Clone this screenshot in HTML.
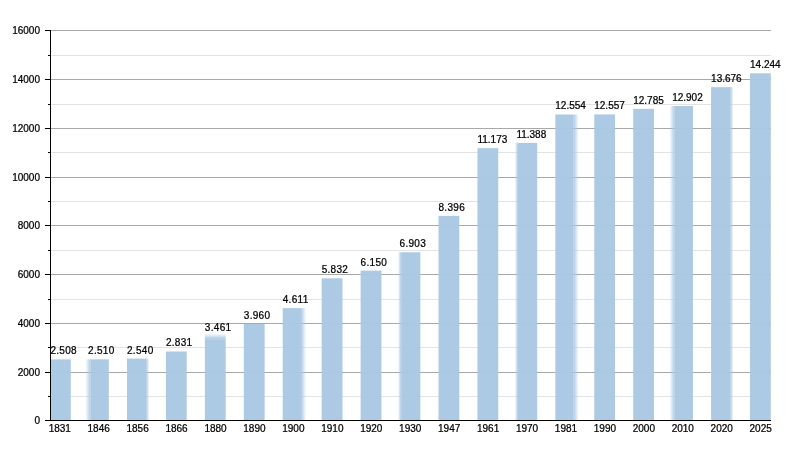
<!DOCTYPE html><html><head><meta charset="utf-8"><style>html,body{margin:0;padding:0;background:#fff}svg{display:block;will-change:transform}text{font-family:"Liberation Sans",sans-serif;font-size:10px;fill:#000;stroke:#000;stroke-width:0.24px}.v{letter-spacing:0.3px}</style></head><body>
<svg width="800" height="450" viewBox="0 0 800 450">
<rect width="800" height="450" fill="#fff"/>
<defs><linearGradient id="gl" x1="0" x2="1" y1="0" y2="0"><stop offset="0" stop-color="#aac8e4" stop-opacity="0"/><stop offset="1" stop-color="#aac8e4" stop-opacity="0.97"/></linearGradient><linearGradient id="gr" x1="0" x2="1" y1="0" y2="0"><stop offset="0" stop-color="#aac8e4" stop-opacity="0.97"/><stop offset="1" stop-color="#aac8e4" stop-opacity="0"/></linearGradient><linearGradient id="gt" x1="0" x2="0" y1="0" y2="1"><stop offset="0" stop-color="#aac8e4" stop-opacity="0"/><stop offset="1" stop-color="#aac8e4" stop-opacity="0.97"/></linearGradient></defs>
<line x1="50.5" x2="771.0" y1="396.50" y2="396.50" stroke="#e3e3e3" stroke-width="1"/>
<line x1="50.5" x2="771.0" y1="372.50" y2="372.50" stroke="#a8a8a8" stroke-width="1"/>
<line x1="50.5" x2="771.0" y1="347.50" y2="347.50" stroke="#e3e3e3" stroke-width="1"/>
<line x1="50.5" x2="771.0" y1="323.50" y2="323.50" stroke="#a8a8a8" stroke-width="1"/>
<line x1="50.5" x2="771.0" y1="299.50" y2="299.50" stroke="#e3e3e3" stroke-width="1"/>
<line x1="50.5" x2="771.0" y1="274.50" y2="274.50" stroke="#a8a8a8" stroke-width="1"/>
<line x1="50.5" x2="771.0" y1="250.50" y2="250.50" stroke="#e3e3e3" stroke-width="1"/>
<line x1="50.5" x2="771.0" y1="225.50" y2="225.50" stroke="#a8a8a8" stroke-width="1"/>
<line x1="50.5" x2="771.0" y1="201.50" y2="201.50" stroke="#e3e3e3" stroke-width="1"/>
<line x1="50.5" x2="771.0" y1="177.50" y2="177.50" stroke="#a8a8a8" stroke-width="1"/>
<line x1="50.5" x2="771.0" y1="152.50" y2="152.50" stroke="#e3e3e3" stroke-width="1"/>
<line x1="50.5" x2="771.0" y1="128.50" y2="128.50" stroke="#a8a8a8" stroke-width="1"/>
<line x1="50.5" x2="771.0" y1="104.50" y2="104.50" stroke="#e3e3e3" stroke-width="1"/>
<line x1="50.5" x2="771.0" y1="79.50" y2="79.50" stroke="#a8a8a8" stroke-width="1"/>
<line x1="50.5" x2="771.0" y1="55.50" y2="55.50" stroke="#e3e3e3" stroke-width="1"/>
<line x1="50.5" x2="771.0" y1="30.50" y2="30.50" stroke="#a8a8a8" stroke-width="1"/>
<rect x="50.50" y="359.37" width="20.30" height="61.13" fill="#aac8e4" fill-opacity="0.97"/>
<rect x="85.44" y="359.32" width="5.20" height="61.18" fill="url(#gl)"/>
<rect x="90.64" y="359.32" width="18.20" height="61.18" fill="#aac8e4" fill-opacity="0.97"/>
<rect x="146.18" y="358.59" width="3.20" height="61.91" fill="url(#gr)"/>
<rect x="126.98" y="358.59" width="19.20" height="61.91" fill="#aac8e4" fill-opacity="0.97"/>
<rect x="165.92" y="351.49" width="20.80" height="69.01" fill="#aac8e4" fill-opacity="0.97"/>
<rect x="204.86" y="333.14" width="20.80" height="6" fill="url(#gt)"/>
<rect x="204.86" y="339.14" width="20.80" height="81.36" fill="#aac8e4" fill-opacity="0.97"/>
<rect x="243.80" y="323.98" width="20.80" height="96.52" fill="#aac8e4" fill-opacity="0.97"/>
<rect x="300.94" y="308.11" width="5.20" height="112.39" fill="url(#gr)"/>
<rect x="282.74" y="308.11" width="18.20" height="112.39" fill="#aac8e4" fill-opacity="0.97"/>
<rect x="321.68" y="278.35" width="20.80" height="142.15" fill="#aac8e4" fill-opacity="0.97"/>
<rect x="360.62" y="270.59" width="20.80" height="149.91" fill="#aac8e4" fill-opacity="0.97"/>
<rect x="397.96" y="252.24" width="3.20" height="168.26" fill="url(#gl)"/>
<rect x="401.16" y="252.24" width="19.20" height="168.26" fill="#aac8e4" fill-opacity="0.97"/>
<rect x="438.50" y="215.85" width="20.80" height="204.65" fill="#aac8e4" fill-opacity="0.97"/>
<rect x="477.44" y="148.16" width="20.80" height="272.34" fill="#aac8e4" fill-opacity="0.97"/>
<rect x="514.78" y="142.92" width="3.20" height="277.58" fill="url(#gl)"/>
<rect x="517.98" y="142.92" width="19.20" height="277.58" fill="#aac8e4" fill-opacity="0.97"/>
<rect x="573.52" y="114.50" width="5.20" height="306.00" fill="url(#gr)"/>
<rect x="555.32" y="114.50" width="18.20" height="306.00" fill="#aac8e4" fill-opacity="0.97"/>
<rect x="594.26" y="114.42" width="20.80" height="306.08" fill="#aac8e4" fill-opacity="0.97"/>
<rect x="633.20" y="108.87" width="20.80" height="311.63" fill="#aac8e4" fill-opacity="0.97"/>
<rect x="669.54" y="106.01" width="5.20" height="314.49" fill="url(#gl)"/>
<rect x="674.74" y="106.01" width="18.20" height="314.49" fill="#aac8e4" fill-opacity="0.97"/>
<rect x="730.28" y="87.15" width="3.20" height="333.35" fill="url(#gr)"/>
<rect x="711.08" y="87.15" width="19.20" height="333.35" fill="#aac8e4" fill-opacity="0.97"/>
<rect x="750.02" y="73.30" width="20.80" height="347.20" fill="#aac8e4" fill-opacity="0.97"/>
<line x1="50.5" x2="50.5" y1="30.0" y2="421.0" stroke="#000" stroke-width="1"/>
<line x1="50.0" x2="771.0" y1="420.5" y2="420.5" stroke="#000" stroke-width="1"/>
<line x1="45.0" x2="50.5" y1="420.50" y2="420.50" stroke="#000" stroke-width="1"/>
<text x="40" y="424.00" text-anchor="end">0</text>
<line x1="48.0" x2="50.5" y1="396.50" y2="396.50" stroke="#000" stroke-width="1"/>
<line x1="45.0" x2="50.5" y1="372.50" y2="372.50" stroke="#000" stroke-width="1"/>
<text x="40" y="376.00" text-anchor="end">2000</text>
<line x1="48.0" x2="50.5" y1="347.50" y2="347.50" stroke="#000" stroke-width="1"/>
<line x1="45.0" x2="50.5" y1="323.50" y2="323.50" stroke="#000" stroke-width="1"/>
<text x="40" y="327.00" text-anchor="end">4000</text>
<line x1="48.0" x2="50.5" y1="299.50" y2="299.50" stroke="#000" stroke-width="1"/>
<line x1="45.0" x2="50.5" y1="274.50" y2="274.50" stroke="#000" stroke-width="1"/>
<text x="40" y="278.00" text-anchor="end">6000</text>
<line x1="48.0" x2="50.5" y1="250.50" y2="250.50" stroke="#000" stroke-width="1"/>
<line x1="45.0" x2="50.5" y1="225.50" y2="225.50" stroke="#000" stroke-width="1"/>
<text x="40" y="229.00" text-anchor="end">8000</text>
<line x1="48.0" x2="50.5" y1="201.50" y2="201.50" stroke="#000" stroke-width="1"/>
<line x1="45.0" x2="50.5" y1="177.50" y2="177.50" stroke="#000" stroke-width="1"/>
<text x="40" y="181.00" text-anchor="end">10000</text>
<line x1="48.0" x2="50.5" y1="152.50" y2="152.50" stroke="#000" stroke-width="1"/>
<line x1="45.0" x2="50.5" y1="128.50" y2="128.50" stroke="#000" stroke-width="1"/>
<text x="40" y="132.00" text-anchor="end">12000</text>
<line x1="48.0" x2="50.5" y1="104.50" y2="104.50" stroke="#000" stroke-width="1"/>
<line x1="45.0" x2="50.5" y1="79.50" y2="79.50" stroke="#000" stroke-width="1"/>
<text x="40" y="83.00" text-anchor="end">14000</text>
<line x1="48.0" x2="50.5" y1="55.50" y2="55.50" stroke="#000" stroke-width="1"/>
<line x1="45.0" x2="50.5" y1="30.50" y2="30.50" stroke="#000" stroke-width="1"/>
<text x="40" y="34.00" text-anchor="end">16000</text>
<text class="v" x="50.40" y="354.32">2.508</text>
<text x="59.75" y="432.00" text-anchor="middle">1831</text>
<text class="v" x="88.04" y="354.27">2.510</text>
<text x="98.69" y="432.00" text-anchor="middle">1846</text>
<text class="v" x="126.98" y="353.54">2.540</text>
<text x="137.63" y="432.00" text-anchor="middle">1856</text>
<text class="v" x="165.92" y="346.44">2.831</text>
<text x="176.57" y="432.00" text-anchor="middle">1866</text>
<text class="v" x="204.86" y="331.09">3.461</text>
<text x="215.51" y="432.00" text-anchor="middle">1880</text>
<text class="v" x="243.80" y="318.93">3.960</text>
<text x="254.45" y="432.00" text-anchor="middle">1890</text>
<text class="v" x="282.74" y="303.06">4.611</text>
<text x="293.39" y="432.00" text-anchor="middle">1900</text>
<text class="v" x="321.68" y="273.30">5.832</text>
<text x="332.33" y="432.00" text-anchor="middle">1910</text>
<text class="v" x="360.62" y="265.54">6.150</text>
<text x="371.27" y="432.00" text-anchor="middle">1920</text>
<text class="v" x="399.56" y="247.19">6.903</text>
<text x="410.21" y="432.00" text-anchor="middle">1930</text>
<text class="v" x="438.50" y="210.80">8.396</text>
<text x="449.15" y="432.00" text-anchor="middle">1947</text>
<text class="w" x="477.44" y="143.11">11.173</text>
<text x="488.09" y="432.00" text-anchor="middle">1961</text>
<text class="w" x="516.38" y="137.87">11.388</text>
<text x="527.03" y="432.00" text-anchor="middle">1970</text>
<text class="w" x="555.32" y="109.45">12.554</text>
<text x="565.97" y="432.00" text-anchor="middle">1981</text>
<text class="w" x="594.26" y="109.37">12.557</text>
<text x="604.91" y="432.00" text-anchor="middle">1990</text>
<text class="w" x="633.20" y="103.82">12.785</text>
<text x="643.85" y="432.00" text-anchor="middle">2000</text>
<text class="w" x="672.14" y="100.96">12.902</text>
<text x="682.79" y="432.00" text-anchor="middle">2010</text>
<text class="w" x="711.08" y="82.10">13.676</text>
<text x="721.73" y="432.00" text-anchor="middle">2020</text>
<text class="w" x="750.02" y="68.25">14.244</text>
<text x="760.67" y="432.00" text-anchor="middle">2025</text>
</svg></body></html>
